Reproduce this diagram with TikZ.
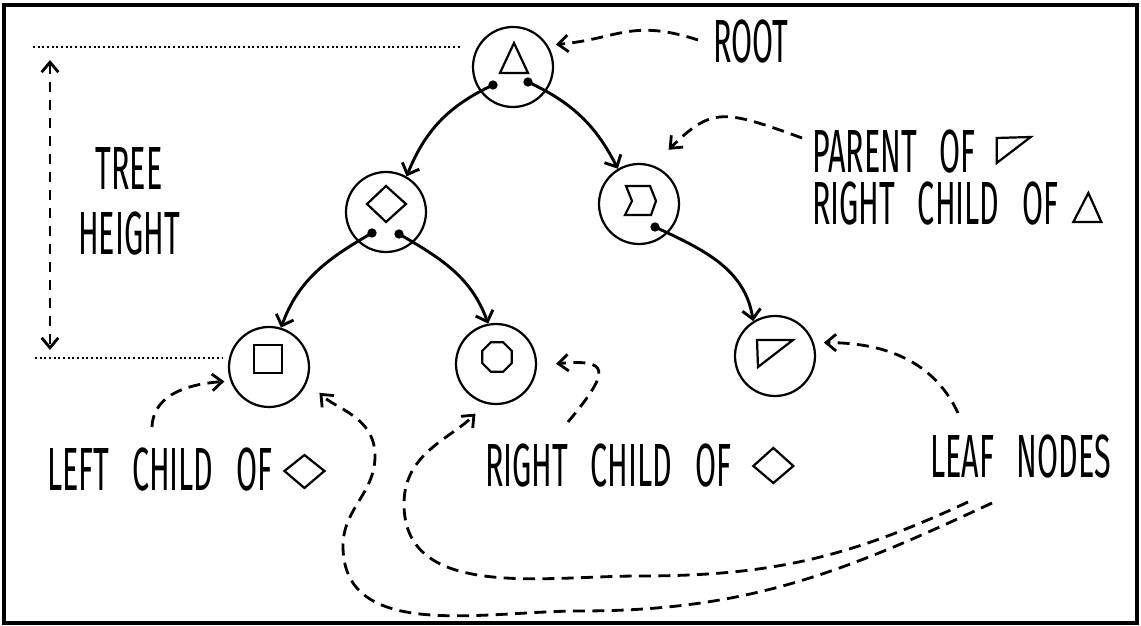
\documentclass[tikz,border=0pt]{standalone}
\usepackage{fontspec}
\newfontfamily\handfont[FakeStretch=0.5, WordSpace=2.8]{Fira Sans}
\usetikzlibrary{arrows.meta,calc}

\begin{document}
\begin{tikzpicture}[x=0.03cm, y=0.03cm,
  treenode/.style={draw, circle, line width=1.9pt, minimum size=2.4cm, inner sep=0pt},
  glyph/.style={line width=1.9pt, line join=miter},
  edge/.style={line width=2.5pt, line cap=round, arrows={-Straight Barb[length=0.28cm, width=0.55cm]}},
  note/.style={line width=2.4pt, dash pattern=on 0.36cm off 0.22cm, arrows={-Straight Barb[length=0.3cm, width=0.5cm]}},
  guide/.style={line width=2.4pt, dash pattern=on 0.06cm off 0.08cm},
  lbl/.style={font=\fontsize{52}{58}\handfont, inner sep=0pt, anchor=base west}]
\useasboundingbox (0,0) rectangle (1141,626);
\draw[line width=2.6pt] (4,3) rectangle (1137,621);

% the tree
\node[treenode] at (513,559) (root) {};
\node[treenode] at (386,414) (diamond) {};
\node[treenode] at (639,422) (chevron) {};
\node[treenode] at (269,259) (square) {};
\node[treenode] at (496,262) (octagon) {};
\node[treenode] at (775,270) (wedge) {};

\draw[glyph, shift={(root)}] (1,24) -- (-13,-6) -- (15,-6) -- cycle;
\draw[glyph, shift={(diamond)}] (-19,8) -- (0,26) -- (20,8) -- (0,-10) -- cycle;
\draw[glyph, shift={(chevron)}] (-13,18) -- (11,18) -- (17,3) -- (12,-11) -- (-14,-11) -- (-7,3) -- cycle;
\draw[glyph, shift={(square)}] (-15,22) rectangle (13,-6);
\draw[glyph, shift={($(octagon)+(1,7)$)}] (22.5:16)
  \foreach \a in {67.5,112.5,...,337.5} { -- (\a:16) } -- cycle;
\draw[glyph, shift={(wedge)}] (-18,16) -- (18,16) -- (-17,-11) -- cycle;

\fill[shift={(root)}] (-20,-18) coordinate (rootL) circle (0.14cm);
\fill[shift={(root)}] (15,-15) coordinate (rootR) circle (0.14cm);
\fill[shift={(diamond)}] (-14,-21) coordinate (diamondL) circle (0.14cm);
\fill[shift={(diamond)}] (13,-22) coordinate (diamondR) circle (0.14cm);
\fill[shift={(chevron)}] (16,-23) coordinate (chevronR) circle (0.14cm);

\draw[edge] (rootL) to[out=205,in=68] (diamond.60);
\draw[edge] (rootR) to[out=-25,in=117] (chevron.121);
\draw[edge] (diamondL) to[out=210,in=70] (square.73);
\draw[edge] (diamondR) to[out=-30,in=110] (octagon.101);
\draw[edge] (chevronR) to[out=-25,in=99] (wedge.122);

% tree height
\draw[guide] (33,579) -- (460,579);
\draw[guide] (35,268) -- (222,268);
\coordinate (htop) at (50,566);
\coordinate (hbot) at (50,276);
\draw[note, dash pattern=on 0.3cm off 0.24cm,
  arrows={Straight Barb[length=0.3cm, width=0.5cm]-Straight Barb[length=0.3cm, width=0.5cm]}]
  (htop) -- (hbot);
\node[lbl, align=center, anchor=north, font=\fontsize{52}{55.5}\handfont]
  at (129,479) (heightlbl) {TREE\\HEIGHT};

% labels
\node[lbl] at (713,563) (rootlbl) {ROOT};
\node[lbl] at (812,453) (parentlbl) {PARENT OF};
\node[lbl] at (812,401) (rchildlbl) {RIGHT CHILD OF};
\node[lbl] at (47,135) (leftlbl) {LEFT CHILD OF};
\node[lbl] at (485,139) (rightlbl) {RIGHT CHILD OF};
\node[lbl] at (930,148) (leaflbl) {LEAF NODES};

\draw[glyph, shift={(parentlbl.base east)}] (21,35) -- (55,36) -- (21,10) -- cycle;
\draw[glyph, shift={(rchildlbl.base east)}] (15,3) -- (43,3) -- (30,32) -- cycle;
\draw[glyph, shift={(leftlbl.base east)}] (12,20) -- (32,36) -- (52,20) -- (32,3) -- cycle;
\draw[glyph, shift={(rightlbl.base east)}] (22,21) -- (42,39) -- (62,21) -- (42,4) -- cycle;

\draw[note, shorten >=0.24cm] ($(rootlbl.base west)+(-15,23)$)
  to[out=162,in=5,looseness=1.2] (root.32);
\draw[note, shorten >=0.66cm] ($(parentlbl.base west)+(-10,35)$)
  to[out=160,in=45,looseness=1.4] (chevron.70);
\draw[note, shorten >=0.3cm] ($(leaflbl.base west)+(28,65)$)
  to[out=115,in=0] (wedge.19);
\draw[note, shorten >=0.18cm] ($(leftlbl.base west)+(105,64)$)
  to[out=88,in=184] (square.200);
\draw[note, shorten >=0.57cm] ($(rightlbl.base west)+(83,65)$)
  to[out=50,in=5,looseness=2.8] (octagon.-2);
\draw[note, shorten >=0.5cm] ($(leaflbl.base west)+(62,-25)$)
  to[out=205,in=0] (580,15) to[out=180,in=270] (343,80)
  to[out=90,in=270] (375,170) to[out=90,in=-45] (square.-20);
\draw[note, shorten >=0.42cm] ($(leaflbl.base west)+(38,-24)$)
  to[out=205,in=0] (640,50) to[out=180,in=270] (404,122)
  to[out=90,in=225] (octagon.255);
\end{tikzpicture}
\end{document}
